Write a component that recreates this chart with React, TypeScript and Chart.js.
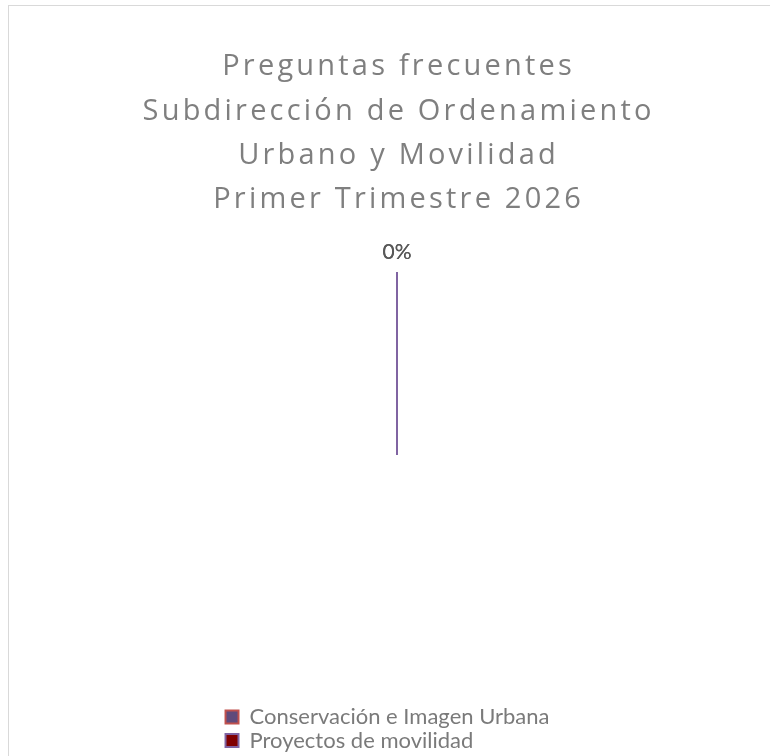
import React, { useEffect, useRef } from 'react';
import { Chart, registerables } from 'chart.js';

Chart.register(...registerables);

// ---- data ----
const TITLE_LINES = [
  'Preguntas frecuentes',
  'Subdirección de Ordenamiento',
  'Urbano y Movilidad',
  'Primer Trimestre 2026',
];
const CATEGORIES = ['Conservación e Imagen Urbana', 'Proyectos de movilidad'];
const VALUES = [0, 0];
const FILL_COLORS = ['#604A7B', '#800000'];
const BORDER_COLORS = ['#C0504D', '#8064A2'];

// ---- layout / style ----
const FONT = 'Lato, "Noto Sans", sans-serif';
const TITLE_FONT = '"Open Sans", Lato, sans-serif';
const CANVAS_W = 776;
const CANVAS_H = 788;
const TITLE_SIZE = 29;
const TITLE_LINE = 44.2;
const TITLE_SPACING = 3.2;
const TITLE_PAD_TOP = 39;
const PIE_CENTER_Y = 449;
const LEGEND_FIRST_ROW_Y = 711;
const LEGEND_SIZE = 22;
const LEGEND_PAD = 1.5;
const LEGEND_BOX = 13;
const LEGEND_TRAIL = 19;
const LABEL_SIZE = 21;
const LABEL_GAP = 20;
const PIE_RADIUS = 183;

const titleSpacing = {
  id: 'titleSpacing',
  afterInit(chart: any) {
    const tb = chart.titleBlock;
    if (!tb) return;
    const draw = tb.draw;
    tb.draw = function (...args: any[]) {
      const c = chart.ctx as any;
      const prev = c.letterSpacing;
      c.save();
      // letter spacing adds trailing space after the last glyph; re-centre the lines
      c.translate(TITLE_SPACING / 2, 0);
      c.letterSpacing = `${TITLE_SPACING}px`;
      draw.apply(this, args);
      c.restore();
      c.letterSpacing = prev || '0px';
    };
  },
};

const stackedLegend = {
  id: 'stackedLegend',
  afterInit(chart: any) {
    const lg = chart.legend;
    if (!lg) return;
    const fit = lg.fit;
    lg.fit = function () {
      const full = this.maxWidth;
      this.maxWidth = 1; // one entry per row, as in the reference
      fit.call(this);
      this.maxWidth = full;
      this.width = full;
    };
  },
  beforeDraw(chart: any) {
    const lg = chart.legend;
    if (!lg || !lg.legendItems) return;
    const ctx = chart.ctx;
    ctx.save();
    ctx.font = `${LEGEND_SIZE}px ${FONT}`;
    const widest = Math.max(...lg.legendItems.map((it: any) => ctx.measureText(it.text).width));
    ctx.restore();
    const block = LEGEND_BOX + LEGEND_SIZE / 2 + widest + LEGEND_TRAIL;
    const mid = (chart.chartArea.left + chart.chartArea.right) / 2;
    lg.left = mid - block / 2 - LEGEND_PAD;
    lg.right = lg.left + block + 2 * LEGEND_PAD;
  },
};

const zeroSlices = {
  id: 'zeroSlices',
  afterDatasetsDraw(chart: any) {
    const meta = chart.getDatasetMeta(0);
    const data = chart.data.datasets[0].data as number[];
    const total = meta.total || 0;
    const ctx = chart.ctx;
    meta.data.forEach((arc: any) => {
      if (arc.circumference !== 0) return;
      const o = arc.options;
      ctx.save();
      ctx.strokeStyle = o.borderColor;
      ctx.lineWidth = o.borderWidth;
      ctx.beginPath();
      ctx.moveTo(arc.x, arc.y);
      ctx.lineTo(
        arc.x + Math.cos(arc.startAngle) * arc.outerRadius,
        arc.y + Math.sin(arc.startAngle) * arc.outerRadius
      );
      ctx.stroke();
      ctx.restore();
    });
    ctx.save();
    ctx.font = `${LABEL_SIZE}px ${FONT}`;
    ctx.fillStyle = '#595959';
    ctx.textAlign = 'center';
    ctx.textBaseline = 'middle';
    meta.data.forEach((arc: any, i: number) => {
      const pct = total > 0 ? Math.round((100 * data[i]) / total) : 0;
      const a = (arc.startAngle + arc.endAngle) / 2;
      const r = arc.outerRadius + LABEL_GAP;
      ctx.fillText(`${pct}%`, arc.x + Math.cos(a) * r, arc.y + Math.sin(a) * r);
    });
    ctx.restore();
  },
};

export default function App() {
  const ref = useRef<HTMLCanvasElement | null>(null);
  useEffect(() => {
    if (!ref.current) return;
    // title block bottom, and the legend top that centres the pie at PIE_CENTER_Y
    const titleBottom = TITLE_PAD_TOP + TITLE_LINES.length * TITLE_LINE;
    const legendTop = 2 * PIE_CENTER_Y - titleBottom;
    const legendTitleSpace = LEGEND_FIRST_ROW_Y - LEGEND_SIZE / 2 - LEGEND_PAD - legendTop;
    const legendHeight = legendTitleSpace + CATEGORIES.length * (LEGEND_SIZE + LEGEND_PAD) + 10;
    const bottomPad = CANVAS_H - legendTop - legendHeight;
    const chart = new Chart(ref.current, {
      type: 'pie',
      data: {
        labels: CATEGORIES,
        datasets: [
          {
            data: VALUES,
            backgroundColor: FILL_COLORS,
            borderColor: BORDER_COLORS,
            borderWidth: 2,
            radius: PIE_RADIUS,
          } as any,
        ],
      },
      options: {
        responsive: false,
        animation: false,
        layout: { padding: { bottom: bottomPad } },
        plugins: {
          title: {
            display: true,
            text: TITLE_LINES,
            color: '#7f7f7f',
            font: { family: TITLE_FONT, size: TITLE_SIZE, weight: 'normal', lineHeight: TITLE_LINE / TITLE_SIZE },
            padding: { top: TITLE_PAD_TOP, bottom: 0 },
          },
          legend: {
            display: true,
            position: 'bottom',
            align: 'start',
            title: {
              display: true,
              text: '',
              font: { size: 10, lineHeight: 1 },
              padding: { top: legendTitleSpace - 10, bottom: 0 },
            },
            labels: {
              boxWidth: LEGEND_BOX,
              boxHeight: LEGEND_BOX,
              padding: LEGEND_PAD,
              color: '#7a7a7a',
              font: { family: FONT, size: LEGEND_SIZE },
            },
          },
          tooltip: { enabled: false },
        },
      } as any,
      plugins: [titleSpacing, stackedLegend, zeroSlices],
    });
    return () => chart.destroy();
  }, []);

  return (
    <div
      style={{
        position: 'fixed',
        left: 8,
        top: 5,
        width: CANVAS_W + 2,
        height: CANVAS_H + 2,
        border: '1px solid #d9d9d9',
        boxSizing: 'border-box',
        background: '#fff',
      }}
    >
      <canvas ref={ref} width={CANVAS_W} height={CANVAS_H} style={{ display: 'block' }} />
    </div>
  );
}
